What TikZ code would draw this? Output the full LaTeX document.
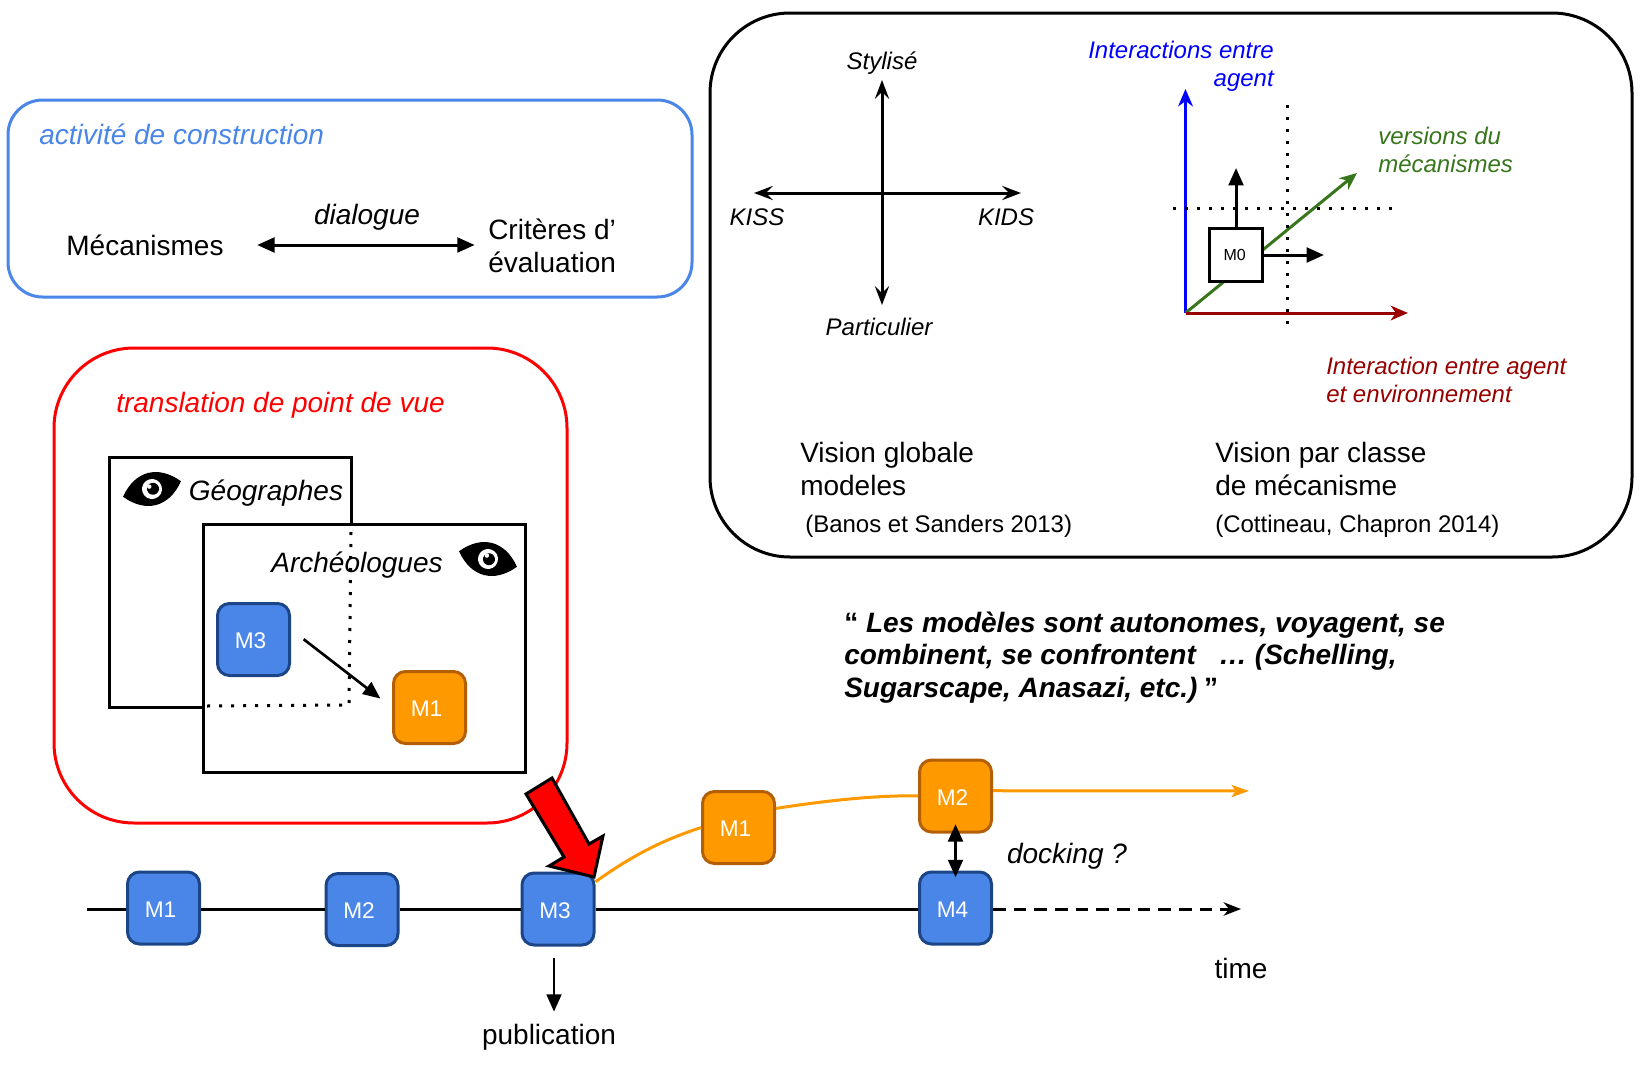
\documentclass[tikz,border=0pt]{standalone}
\usepackage{fontspec}
\setmainfont{Liberation Sans}
\usetikzlibrary{arrows.meta}
\definecolor{modelblue}{HTML}{4A86E8}
\definecolor{modelblueline}{HTML}{1C4587}
\definecolor{modelorange}{HTML}{FF9900}
\definecolor{modelorangeline}{HTML}{B45F06}
\definecolor{axisgreen}{HTML}{38761D}
\definecolor{axisred}{HTML}{980000}
\def\eyemark(#1)(#2){\begin{scope}[shift={(#1)},rotate=#2]
	\fill[black] (-30,0) .. controls (-12,-22) and (12,-22) .. (30,0) .. controls (12,22) and (-12,22) .. (-30,0) -- cycle;
	\fill[white] (0,0) circle (10);
	\fill[black] (1,0) circle (6);
	\fill[white] (-2,-3) circle (2.2);
\end{scope}}
\tikzset{
	txtbig/.style={inner sep=0pt, font=\fontsize{21}{24.5}\selectfont},
	txtsmall/.style={inner sep=0pt, font=\fontsize{18}{21.3}\selectfont},
	frame/.style={line width=2.25pt, rounded corners=#1},
	sheet/.style={draw=black, line width=2.25pt, fill=white},
	model/.style={draw, line width=2.25pt, rounded corners=9pt, minimum size=54pt, inner sep=0pt, text=white, text height=13.5pt, text depth=0pt, font=\fontsize{17}{20}\selectfont, execute at end node={\hspace{4.5pt}}},
	mblue/.style={model, fill=modelblue, draw=modelblueline},
	morange/.style={model, fill=modelorange, draw=modelorangeline},
	thick2/.style={line width=2.25pt},
	dots/.style={line width=2.25pt, dash pattern=on 2.25pt off 6.75pt},
	heavyhead/.style={-{Triangle[length=13pt,width=11pt]}},
	notchhead/.style={-{Stealth[length=13pt,width=11pt,inset=4pt]}},
	lighthead/.style={{Stealth[length=14pt,width=10.5pt,inset=5pt]}-{Stealth[length=14pt,width=10.5pt,inset=5pt]}}
}
\begin{document}
\begin{tikzpicture}[x=0.75pt,y=-0.75pt]
	\useasboundingbox (0,0) rectangle (1642,1092);

	%%%%% construction %%%%%
	\draw[frame=26pt, draw=modelblue] (8,100) rectangle (692,297);
	\node[txtbig, anchor=west, text=modelblue] (construction) at (39,134) {\itshape activité de construction};
	\node[txtbig] (mecanismes) at (145,245) {Mécanismes};
	\node[txtbig, align=left, anchor=west] (criteres) at (488,246) {Critères d’\\évaluation};
	\node[txtbig] (dialogue) at (367,217) {\itshape dialogue};
	\draw[thick2, {Triangle[length=13pt,width=11pt]}-{Triangle[length=13pt,width=11pt]}, shorten <=25pt, shorten >=10pt] (mecanismes.east) -- (mecanismes.east -| criteres.west);

	%%%%% vision panel %%%%%
	\draw[frame=60pt, draw=black] (710,13) rectangle (1632,557);
	\node[txtsmall] (stylise) at (882,63) {\itshape Stylisé};
	\node[txtsmall] (particulier) at (879,327) {\itshape Particulier};
	\node[txtsmall] (kiss) at (757,217) {\itshape KISS};
	\node[txtsmall] (kids) at (1006,217) {\itshape KIDS};
	\coordinate (axtop) at (882,80);
	\coordinate (axbottom) at (882,305);
	\coordinate (axleft) at (754,193);
	\coordinate (axright) at (1021,193);
	\draw[thick2, lighthead] (axtop) -- (axbottom);
	\draw[thick2, lighthead] (axleft) -- (axright);

	\node[txtsmall, align=right, anchor=east, text=blue] (intagent) at (1274,66.5) {\itshape Interactions entre\\\itshape agent};
	\node[txtsmall, align=left, anchor=west, text=axisgreen] (versions) at (1378,150) {\itshape versions du\\\itshape mécanismes};
	\node[txtsmall, align=left, anchor=west, text=axisred] (intenv) at (1326,380) {\itshape Interaction entre agent\\\itshape et environnement};

	\coordinate (origin) at (1185.5,313);
	\coordinate (bluetip) at (1185.5,89);
	\coordinate (redtip) at (1408,313);
	\coordinate (greentip) at (1357,173);
	\draw[thick2, blue, notchhead] (origin) -- (bluetip);
	\draw[thick2, axisgreen, notchhead] (origin) -- (greentip);
	\draw[thick2, axisred, notchhead] (origin) -- (redtip);
	\coordinate (dotleft) at (1173,208);
	\coordinate (dotright) at (1395,208);
	\coordinate (dottop) at (1287,105);
	\coordinate (dotbottom) at (1287,325);
	\draw[dots] (dotleft) -- (dotright);
	\draw[dots] (dottop) -- (dotbottom);
	\node[sheet, minimum size=40pt, inner sep=0pt, font=\fontsize{12}{14}\selectfont, execute at end node={\hspace{2pt}}] (mzero) at (1236,255) {M0};
	\coordinate (mzerotop) at (1236,168);
	\coordinate (mzeroright) at (1324,255);
	\draw[thick2, heavyhead] (mzero.north) -- (mzerotop);
	\draw[thick2, heavyhead] (mzero.east) -- (mzeroright);

	\node[txtbig, align=left, anchor=west] (visionglobale) at (800,469) {Vision globale\\modeles};
	\node[txtsmall, anchor=west] (banos) at (805,526) {(Banos et Sanders 2013)};
	\node[txtbig, align=left, anchor=west] (visionclasse) at (1215,469) {Vision par classe\\de mécanisme};
	\node[txtsmall, anchor=west] (cottineau) at (1215,526) {(Cottineau, Chapron 2014)};

	%%%%% quote %%%%%
	\node[txtbig, align=left, anchor=west] (citation) at (844,657.5) {\bfseries\itshape {\upshape “} Les modèles sont autonomes, voyagent, se\\\bfseries\itshape combinent, se confrontent \ \ … (Schelling,\\\bfseries\itshape Sugarscape, Anasazi, etc.)\hspace{5pt}{\upshape ”}};

	%%%%% point of view %%%%%
	\draw[frame=60pt, draw=red] (54,348) rectangle (567,823);
	\node[txtbig, anchor=west, text=red] (translation) at (116,405) {\itshape translation de point de vue};
	\draw[sheet] (109,457) rectangle (351,707);
	\draw[sheet] (203.5,524) rectangle (525,772);
	\draw[dots] (351,532) -- (349,705) -- (207,706);
	\eyemark(152,489)(15)
	\eyemark(488,559)(-15)
	\node[txtbig] (geographes) at (266,493) {\itshape Géographes};
	\node[txtbig] (archeologues) at (357,565) {\itshape Archéologues};
	\node[mblue] (mtrois) at (253.5,639.5) {M3};
	\node[morange] (mun) at (429.5,707.5) {M1};
	\draw[line width=2pt, heavyhead, shorten <=12pt, shorten >=11pt] (mtrois.15) -- (mun.west);

	%%%%% timeline %%%%%
	\coordinate (tstart) at (87,909);
	\coordinate (tend) at (1241,909);
	\coordinate (oend) at (1249,791);
	\node[mblue] (lineun) at (163.5,908) {M1};
	\node[mblue] (linedeux) at (362,909.5) {M2};
	\node[mblue] (linetrois) at (558,909) {M3};
	\node[mblue] (linequatre) at (955.5,908) {M4};
	\node[morange] (branchun) at (738.5,827.5) {M1};
	\node[morange] (branchdeux) at (955.5,796) {M2};
	\draw[thick2] (tstart) -- (lineun.west |- tstart);
	\draw[thick2] (lineun.east |- tstart) -- (linedeux.west |- tstart);
	\draw[thick2] (linedeux.east |- tstart) -- (linetrois.west);
	\draw[thick2] (linetrois.east) -- (linequatre.west |- tstart);
	\draw[thick2, dash pattern=on 9.5pt off 6pt, -{Stealth[length=13pt,width=10pt,inset=4pt]}] (linequatre.east |- tstart) -- (tend);
	\draw[thick2, modelorange] (linetrois.36) .. controls (640,850) and (670,838) .. (branchun.west);
	\draw[thick2, modelorange] (branchun.27) .. controls (830,800) and (880,795) .. (branchdeux.west);
	\draw[thick2, modelorange, -{Stealth[length=13pt,width=9pt,inset=3pt]}] (branchdeux.8) -- (oend);
	\draw[thick2, {Triangle[length=13pt,width=11pt]}-{Triangle[length=13pt,width=11pt]}, shorten <=-7pt, shorten >=-5pt] (branchdeux.south) -- (linequatre.north);
	\node[txtbig] (docking) at (1067,856) {\itshape docking ?};
	\node[txtbig] (time) at (1241,968) {time};
	\node[txtbig] (publication) at (549,1037) {publication};
	\draw[line width=2pt, heavyhead, shorten <=8.5pt, shorten >=9pt] ([xshift=-3pt]linetrois.south) -- ([xshift=-3pt]linetrois.south |- publication.north);

	%%%%% big arrow %%%%%
	\draw[line width=2.25pt, fill=red, line join=miter] (552,778) -- (526,794) -- (564,857) -- (549,866) -- (594,877) -- (603,836) -- (589,844) -- cycle;
\end{tikzpicture}
\end{document}
